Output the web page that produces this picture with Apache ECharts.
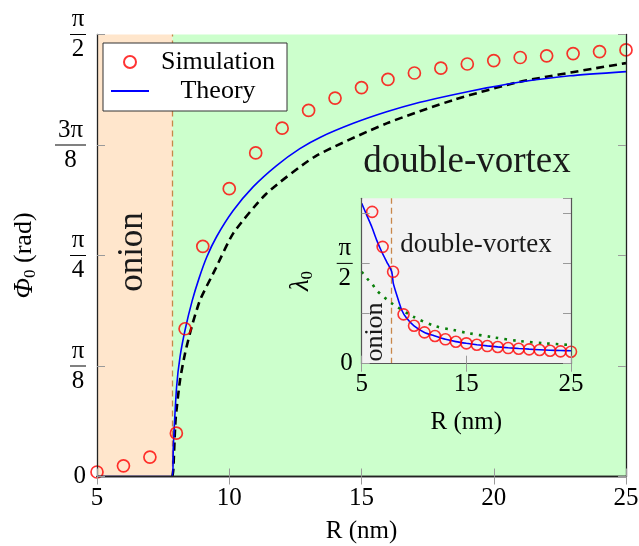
<!DOCTYPE html>
<html lang="en">
<head>
    <meta charset="UTF-8">
    <title>Phi0 vs R</title>
    <script src="https://cdn.jsdelivr.net/npm/echarts@6/dist/echarts.min.js"></script>
    <style>
        html, body { margin: 0; padding: 0; background: #fff; }
        #container { width: 639px; height: 546px; }
    </style>
</head>
<body>
<div id="container"></div>
<script>
    // main panel: phi0 (rad) vs R (nm)
    const simR = [5, 6, 7, 8, 8.33, 9, 10, 11, 12, 13, 14, 15, 16, 17, 18, 19, 20, 21, 22, 23, 24, 25];
    const simPhi = [0.016, 0.038, 0.069, 0.154, 0.525, 0.818, 1.023, 1.150, 1.238, 1.301, 1.345, 1.382, 1.411, 1.434, 1.451, 1.466, 1.478, 1.489, 1.495, 1.503, 1.510, 1.516];

    const theoryR = [5, 7.85, 7.885, 8.01, 8.14, 8.34, 8.6, 8.86, 9.15, 9.52, 10.15, 10.91, 11.79, 12.67, 13.43, 14.69, 15.95, 17.21, 18.47, 19.73, 21, 22.88, 25];
    const theoryPhi = [0, 0, 0.105, 0.319, 0.426, 0.525, 0.625, 0.705, 0.780, 0.852, 0.945, 1.030, 1.105, 1.165, 1.205, 1.255, 1.296, 1.330, 1.357, 1.381, 1.402, 1.424, 1.439];

    const approxR = [7.85, 7.885, 7.97, 8.14, 8.33, 8.58, 8.9, 9.46, 10.15, 11.4, 13.24, 15.95, 18.47, 21, 25];
    const approxPhi = [0, 0.024, 0.201, 0.343, 0.438, 0.532, 0.628, 0.734, 0.864, 1.005, 1.137, 1.255, 1.338, 1.403, 1.469];

    const onionEdge = 7.85;
    const xTicks = [5, 10, 15, 20, 25];
    const yTickLabels = ['0', 'π/8', 'π/4', '3π/8', 'π/2'];

    // inset: lambda0 vs R
    const inSimR = [6, 7, 8, 9, 10, 11, 12, 13, 14, 15, 16, 17, 18, 19, 20, 21, 22, 23, 24, 25];
    const inSimLam = [2.378, 1.830, 1.439, 0.773, 0.594, 0.490, 0.434, 0.382, 0.344, 0.319, 0.297, 0.276, 0.261, 0.245, 0.234, 0.225, 0.214, 0.203, 0.193, 0.188];

    const inTheoryR = [5, 5.48, 5.96, 6.43, 6.91, 7.39, 7.87, 8.02, 8.35, 8.82, 9.3, 10, 11, 12, 13, 14, 15, 16, 17, 18, 19, 20, 21, 22, 23, 24, 25];
    const inTheoryLam = [2.510, 2.326, 2.144, 1.935, 1.753, 1.596, 1.439, 1.258, 1.075, 0.840, 0.710, 0.594, 0.490, 0.434, 0.382, 0.346, 0.320, 0.298, 0.279, 0.263, 0.249, 0.238, 0.228, 0.219, 0.211, 0.206, 0.203];

    const inDotR = [5, 5.5, 6, 6.4, 6.9, 7.4, 7.87, 9.94, 12, 13.76, 15, 17.6, 20, 22.5, 25];
    const inDotLam = [1.439, 1.336, 1.247, 1.153, 1.075, 1.007, 0.945, 0.735, 0.59, 0.528, 0.485, 0.413, 0.355, 0.32, 0.292];

    const inYTickLabels = ['0', '', 'π/2', ''];
    const inYMax = 2.59;

    const font = 'Liberation Serif';
    const zip = (xs, ys) => xs.map((x, i) => [x, ys[i]]);

    function fracLabel(lab) {
        if (lab.indexOf('/') < 0) return lab === '' ? '' : '{z|' + lab + '}';
        const p = lab.split('/');
        return '{n|' + p[0] + '}\n{' + (p[0].length > 1 ? 'barW' : 'bar') + '| }\n{d|' + p[1] + '}';
    }
    const fracRich = {
        n: {fontFamily: font, fontSize: 25, lineHeight: 26, align: 'center', color: '#000'},
        d: {fontFamily: font, fontSize: 25, lineHeight: 26, align: 'center', color: '#000'},
        z: {fontFamily: font, fontSize: 25, color: '#000'},
        bar: {width: 16, height: 1, backgroundColor: '#000', lineHeight: 4, align: 'center', fontSize: 1},
        barW: {width: 31, height: 1, backgroundColor: '#000', lineHeight: 4, align: 'center', fontSize: 1}
    };

    const tickStyle = {show: true, inside: true, length: 8, lineStyle: {color: '#9a9a9a', width: 1}};
    const frameLine = {show: true, lineStyle: {color: '#222', width: 1.3}};
    const inFrameLine = {show: true, lineStyle: {color: '#555', width: 1.2}};

    var dom = document.getElementById('container');
    var myChart = echarts.init(dom, null, {renderer: 'canvas'});

    var option = {
        animation: false,
        backgroundColor: '#fff',
        grid: [
            {left: 97, right: 13, top: 34.5, bottom: 69.5, outerBoundsMode: 'none', containLabel: false},
            {left: 361.7, width: 209.3, top: 198.3, height: 165.4, outerBoundsMode: 'none', containLabel: false}
        ],
        legend: {
            data: [
                {name: 'Simulation'},
                {name: 'Theory', icon: 'path://M0,0H38V2H0Z'}
            ],
            orient: 'vertical',
            left: 103,
            top: 43,
            backgroundColor: '#fff',
            borderColor: '#333',
            borderWidth: 1,
            borderRadius: 0,
            padding: [6, 5, 7, 8],
            itemGap: 3,
            itemWidth: 38,
            itemHeight: 12,
            formatter: name => '{c|' + name + '}',
            textStyle: {
                rich: {c: {fontFamily: font, fontSize: 26, width: 128, align: 'center', lineHeight: 29, color: '#000'}}
            }
        },
        xAxis: [
            {
                type: 'value', gridIndex: 0, min: 5, max: 25, interval: 5, z: 10,
                axisLine: frameLine, axisTick: tickStyle, splitLine: {show: false},
                axisLabel: {
                    margin: 9, fontFamily: font, fontSize: 25, color: '#000',
                    formatter: v => (xTicks.indexOf(v) >= 0 ? String(v) : '')
                },
                name: 'R (nm)', nameLocation: 'middle', nameGap: 42,
                nameTextStyle: {fontFamily: font, fontSize: 25, color: '#000'}
            },
            {
                type: 'value', gridIndex: 0, position: 'top', min: 5, max: 25, interval: 5, z: 10,
                axisLine: frameLine, axisTick: tickStyle, splitLine: {show: false}, axisLabel: {show: false}
            },
            {
                type: 'value', gridIndex: 1, min: 5, max: 25, interval: 10, z: 12,
                axisLine: inFrameLine, axisTick: tickStyle, splitLine: {show: false},
                axisLabel: {margin: 8, fontFamily: font, fontSize: 25, color: '#000'},
                name: 'R (nm)', nameLocation: 'middle', nameGap: 46,
                nameTextStyle: {fontFamily: font, fontSize: 25, color: '#000'}
            },
            {
                type: 'value', gridIndex: 1, position: 'top', min: 5, max: 25, interval: 10, z: 12,
                axisLine: inFrameLine, axisTick: tickStyle, splitLine: {show: false}, axisLabel: {show: false}
            }
        ],
        yAxis: [
            {
                type: 'value', gridIndex: 0, min: 0, max: Math.PI / 2, interval: Math.PI / 8, z: 10,
                axisLine: frameLine, axisTick: tickStyle, splitLine: {show: false},
                axisLabel: {
                    margin: 11, showMaxLabel: true,
                    formatter: v => fracLabel(yTickLabels[Math.round(v / (Math.PI / 8))] || ''),
                    rich: fracRich
                },
                name: '{i|Φ}{s|0} (rad)', nameLocation: 'middle', nameRotate: 90, nameGap: 58,
                nameTextStyle: {
                    fontFamily: font, fontSize: 26, color: '#000',
                    rich: {
                        i: {fontFamily: font, fontStyle: 'italic', fontSize: 27, color: '#000'},
                        s: {fontFamily: font, fontSize: 17, color: '#000', padding: [12, 0, 0, 0]}
                    }
                }
            },
            {
                type: 'value', gridIndex: 0, position: 'right', min: 0, max: Math.PI / 2, interval: Math.PI / 8, z: 10,
                axisLine: frameLine, axisTick: tickStyle, splitLine: {show: false}, axisLabel: {show: false}
            },
            {
                type: 'value', gridIndex: 1, min: 0, max: inYMax, interval: Math.PI / 4, z: 12,
                axisLine: inFrameLine, axisTick: tickStyle, splitLine: {show: false},
                axisLabel: {
                    margin: 9, showMaxLabel: false,
                    formatter: v => fracLabel(inYTickLabels[Math.round(v / (Math.PI / 4))] || ''),
                    rich: fracRich
                },
                name: '{i|λ}{s|0}', nameLocation: 'middle', nameRotate: 90, nameGap: 46,
                nameTextStyle: {
                    rich: {
                        i: {fontFamily: font, fontStyle: 'italic', fontSize: 27, color: '#000'},
                        s: {fontFamily: font, fontSize: 17, color: '#000', padding: [12, 0, 0, 0]}
                    }
                }
            },
            {
                type: 'value', gridIndex: 1, position: 'right', min: 0, max: inYMax, interval: Math.PI / 4, z: 12,
                axisLine: inFrameLine, axisTick: tickStyle, splitLine: {show: false}, axisLabel: {show: false}
            }
        ],
        series: [
            {
                name: 'Approx',
                type: 'line',
                xAxisIndex: 0, yAxisIndex: 0,
                data: zip(approxR, approxPhi),
                symbol: 'none',
                smooth: 0.2,
                lineStyle: {color: '#000', width: 2.6, type: [8, 5]},
                z: 3,
                markArea: {
                    silent: true,
                    z: 1,
                    data: [
                        [{xAxis: 5, itemStyle: {color: '#ffe6cc'}}, {xAxis: onionEdge}],
                        [{xAxis: onionEdge, itemStyle: {color: '#ccffcc'}}, {xAxis: 25}]
                    ]
                }
            },
            {
                name: 'Theory',
                type: 'line',
                xAxisIndex: 0, yAxisIndex: 0,
                data: zip(theoryR, theoryPhi),
                symbol: 'none',
                smooth: 0.2,
                lineStyle: {color: '#0000ff', width: 1.6},
                itemStyle: {color: '#0000ff'},
                z: 4,
                markLine: {
                    silent: true, symbol: 'none', label: {show: false}, z: 2,
                    lineStyle: {color: '#c8874a', width: 1.3, type: [6, 4]},
                    data: [{xAxis: onionEdge}]
                }
            },
            {
                name: 'Simulation',
                type: 'scatter',
                xAxisIndex: 0, yAxisIndex: 0,
                data: zip(simR, simPhi),
                symbol: 'circle',
                symbolSize: 12,
                itemStyle: {color: 'rgba(0,0,0,0)', borderColor: '#ff0000', borderWidth: 1.7},
                z: 5
            },
            {
                name: 'inset-dotted',
                type: 'line',
                xAxisIndex: 2, yAxisIndex: 2,
                data: zip(inDotR, inDotLam),
                symbol: 'none',
                smooth: 0.3,
                lineStyle: {color: '#0a800a', width: 2.6, type: [2.6, 6]},
                z: 7,
                markArea: {
                    silent: true,
                    z: 6,
                    data: [[{xAxis: 5, yAxis: 0, itemStyle: {color: '#f2f2f2'}}, {xAxis: 25, yAxis: inYMax}]]
                }
            },
            {
                name: 'inset-theory',
                type: 'line',
                xAxisIndex: 2, yAxisIndex: 2,
                data: zip(inTheoryR, inTheoryLam),
                symbol: 'none',
                smooth: 0.2,
                lineStyle: {color: '#0000ff', width: 1.6},
                z: 8,
                markLine: {
                    silent: true, symbol: 'none', label: {show: false}, z: 7,
                    lineStyle: {color: '#c8874a', width: 1.3, type: [6, 4]},
                    data: [{xAxis: onionEdge}]
                }
            },
            {
                name: 'inset-sim',
                type: 'scatter',
                xAxisIndex: 2, yAxisIndex: 2,
                data: zip(inSimR, inSimLam),
                symbol: 'circle',
                symbolSize: 11,
                itemStyle: {color: 'rgba(0,0,0,0)', borderColor: '#ff0000', borderWidth: 1.6},
                z: 9
            }
        ],
        graphic: [
            {
                type: 'text', z: 20, x: 133, y: 252, rotation: Math.PI / 2,
                style: {text: 'onion', fontFamily: font, fontSize: 35, fill: '#1a1a1a', align: 'center', verticalAlign: 'middle'}
            },
            {
                type: 'text', z: 20, x: 467, y: 162,
                style: {text: 'double-vortex', fontFamily: font, fontSize: 37, fill: '#1a1a1a', align: 'center', verticalAlign: 'middle'}
            },
            {
                type: 'text', z: 20, x: 476, y: 245,
                style: {text: 'double-vortex', fontFamily: font, fontSize: 27, fill: '#1a1a1a', align: 'center', verticalAlign: 'middle'}
            },
            {
                type: 'text', z: 20, x: 375, y: 332, rotation: Math.PI / 2,
                style: {text: 'onion', fontFamily: font, fontSize: 26, fill: '#1a1a1a', align: 'center', verticalAlign: 'middle'}
            }
        ]
    };

    if (option && typeof option === 'object') {
        myChart.setOption(option);
    }
    window.addEventListener('resize', myChart.resize);
</script>
</body>
</html>
